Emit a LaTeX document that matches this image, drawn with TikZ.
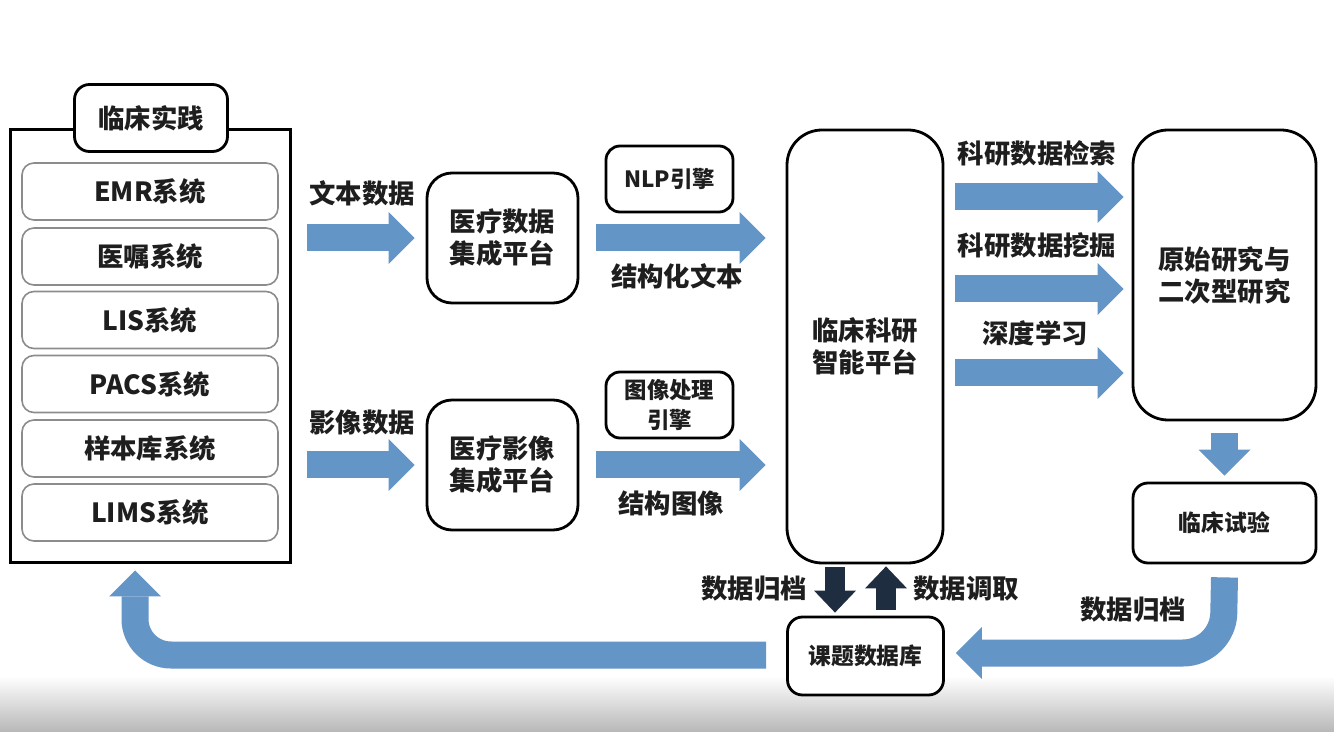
\documentclass[tikz,border=0pt]{standalone}
\usepackage{fontspec}
\setmainfont{Noto Sans CJK SC}
\usetikzlibrary{arrows.meta}
\definecolor{ablue}{RGB}{100,149,199}
\definecolor{anavy}{RGB}{30,45,64}
\definecolor{txt}{RGB}{30,30,30}
\begin{document}
\begin{tikzpicture}[x=0.5pt,y=-0.5pt,
  bigfont/.style={font=\bfseries\fontsize{13.2}{16}\selectfont, text=txt},
  midfont/.style={font=\bfseries\fontsize{11.2}{15}\selectfont, text=txt},
  smallfont/.style={font=\bfseries\fontsize{11.4}{13}\selectfont, text=txt},
  boxbase/.style={draw=black, line width=1.4pt, fill=white, align=center, inner sep=0pt},
  sysbox/.style={draw=black!45, line width=0.8pt, fill=white, rounded corners=6pt, inner sep=0pt,
     minimum width=128pt, minimum height=28.5pt, bigfont},
  lbl/.style={inner sep=0pt, align=center, bigfont},
  barrow/.style={draw=ablue, line width=13.5pt, line cap=butt,
     -{Triangle[length=13pt,width=26pt,line width=0pt]}},
  narrow/.style={draw=anavy, line width=10pt, line cap=butt,
     -{Triangle[length=11pt,width=21pt,line width=0pt]}}
]
\useasboundingbox (0,0) rectangle (1334,732);
\fill[white] (0,0) rectangle (1334,732);
\shade[top color=white, bottom color=black!28] (0,676) rectangle (1334,732);

% left group
\node[boxbase, line width=1.5pt, rounded corners=0pt, minimum width=140pt, minimum height=216.5pt] (outer) at (150,346.5) {};
\node[boxbase, rounded corners=7.5pt, minimum width=76.5pt, minimum height=33.5pt, bigfont] (practice) at (151,118) {临床实践};
\node[sysbox] (emr) at (150,191.5) {EMR系统};
\node[sysbox] (order) at (150,256.5) {医嘱系统};
\node[sysbox] (lis) at (150,320) {LIS系统};
\node[sysbox] (pacs) at (150,384) {PACS系统};
\node[sysbox] (sample) at (150,448.5) {样本库系统};
\node[sysbox] (lims) at (150,512.5) {LIMS系统};

% integration platforms
\node[boxbase, rounded corners=12.5pt, minimum width=75.5pt, minimum height=65pt, bigfont] (intA) at (502.5,238) {医疗数据\\集成平台};
\node[boxbase, rounded corners=12.5pt, minimum width=75.5pt, minimum height=65pt, bigfont] (intB) at (502.5,465) {医疗影像\\集成平台};

% engines
\node[boxbase, rounded corners=7pt, minimum width=63.5pt, minimum height=33pt, midfont] (nlp) at (669.5,179) {NLP引擎};
\node[boxbase, rounded corners=7pt, minimum width=63.5pt, minimum height=33pt, midfont] (imgeng) at (669.5,405) {图像处理\\引擎};

% central platform
\node[boxbase, rounded corners=17.5pt, minimum width=78pt, minimum height=216.5pt, bigfont] (mid) at (865,346.5) {临床科研\\智能平台};

% right side
\node[boxbase, rounded corners=17.5pt, minimum width=91.5pt, minimum height=145pt, bigfont] (research) at (1224.5,275) {原始研究与\\二次型研究};
\node[boxbase, rounded corners=7.5pt, minimum width=91.5pt, minimum height=40pt, smallfont] (trial) at (1224.5,523) {临床试验};
\node[boxbase, rounded corners=7.5pt, minimum width=78pt, minimum height=39pt, smallfont] (db) at (865.5,656) {课题数据库};

% labels
\node[lbl] (lbA) at (362,193) {文本数据};
\node[lbl] (lbB) at (362,423) {影像数据};
\node[lbl] (lbC) at (677,276) {结构化文本};
\node[lbl] (lbD) at (671,503) {结构图像};
\node[lbl] (lbE) at (1037,153) {科研数据检索};
\node[lbl] (lbF) at (1037,245) {科研数据挖掘};
\node[lbl] (lbG) at (1035,333) {深度学习};
\node[lbl] (lbH) at (754,589) {数据归档};
\node[lbl] (lbI) at (966,589) {数据调取};
\node[lbl] (lbJ) at (1133,610) {数据归档};

% blue arrows
\draw[barrow] ([xshift=7.5pt]outer.east |- intA.west) -- ([xshift=-5.5pt]intA.west);
\draw[barrow] ([xshift=7.5pt]outer.east |- intB.west) -- ([xshift=-5.5pt]intB.west);
\draw[barrow] ([xshift=8.5pt]intA.east) -- ([xshift=-10pt]mid.west |- intA.east);
\draw[barrow] ([xshift=8.5pt]intB.east) -- ([xshift=-10pt]mid.west |- intB.east);
\coordinate (r1s) at (955,197);
\coordinate (r2s) at (955,289);
\coordinate (r3s) at (955,373);
\draw[barrow] (r1s) -- ([xshift=-4pt]research.west |- r1s);
\draw[barrow] (r2s) -- ([xshift=-4pt]research.west |- r2s);
\draw[barrow] (r3s) -- ([xshift=-4pt]research.west |- r3s);
\draw[barrow] ([yshift=-6pt]research.south) -- ([yshift=3pt]trial.north);
\draw[barrow, rounded corners=20pt] ([yshift=-6.5pt]trial.south) -- (1223,653) -- ([xshift=5.5pt]db.east |- 0,653);
\draw[barrow, rounded corners=18pt] ([xshift=-10pt]db.west |- 0,655) -- (135,655) -- ([yshift=-3pt]outer.south -| 135,0);

% dark arrows
\draw[narrow] ([yshift=-1.5pt]mid.south -| 835,0) -- ([yshift=1.5pt]db.north -| 835,0);
\draw[narrow] ([yshift=3pt]db.north -| 886,0) -- ([yshift=-1pt]mid.south -| 886,0);
\end{tikzpicture}
\end{document}
